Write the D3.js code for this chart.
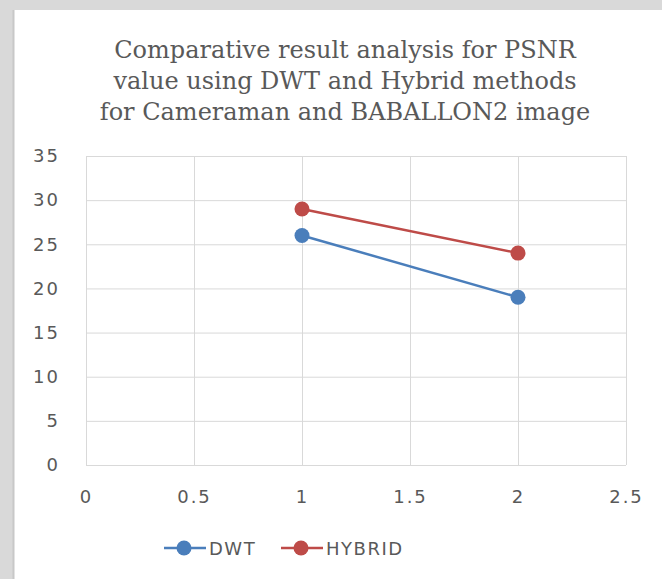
<!DOCTYPE html>
<html>
<head>
<meta charset="utf-8">
<script src="https://cdn.jsdelivr.net/npm/d3@7"></script>
<style>
  body { margin: 0; background: #d9d9d9; }
  svg { display: block; }
</style>
</head>
<body>
<script>
// data
var xValues = [1, 2];
var dwtValues = [26, 19];
var hybridValues = [29, 24];
var seriesNames = ["DWT", "HYBRID"];
var seriesColors = ["#4a7ebb", "#be4b48"];
var xTicks = [0, 0.5, 1, 1.5, 2, 2.5];
var yTicks = [0, 5, 10, 15, 20, 25, 30, 35];
var titleLines = ["Comparative result analysis for PSNR",
                  "value using DWT and Hybrid methods",
                  "for Cameraman and BABALLON2 image"];

var W = 662, H = 579;
var margin = {left: 86, right: 36, top: 156, bottom: 114};
var width = W - margin.left - margin.right,
    height = H - margin.top - margin.bottom;

var svg = d3.select("body").append("svg")
    .attr("width", W)
    .attr("height", H);

// white chart area with a thin grey edge
svg.append("rect")
    .attr("x", 13).attr("y", 10)
    .attr("width", W - 13).attr("height", H - 10)
    .style("fill", "#fff");
svg.append("line")
    .attr("x1", 13.5).attr("x2", 13.5).attr("y1", 10).attr("y2", H)
    .style("stroke", "#c8c8c8").style("stroke-width", 2);

// title
svg.append("text")
    .attr("x", 345)
    .attr("y", 58)
    .style("text-anchor", "middle")
    .style("font-family", "'DejaVu Serif', serif")
    .style("font-size", "24px")
    .style("fill", "#595959")
    .selectAll("tspan")
    .data(titleLines)
    .enter().append("tspan")
    .attr("x", 345)
    .attr("dy", function(d, i) { return i == 0 ? 0 : 31; })
    .text(function(d) { return d; });

var g = svg.append("g")
    .attr("transform", "translate(" + margin.left + "," + margin.top + ")");

var xScale = d3.scaleLinear().domain([0, 2.5]).range([0, width]);
var yScale = d3.scaleLinear().domain([0, 35]).range([height, 0]);

//grid lines
var xAxis = d3.axisBottom(xScale).tickValues(xTicks).tickSize(-height).tickPadding(25)
    .tickFormat(function(d) { return String(d); });
var yAxis = d3.axisLeft(yScale).tickValues(yTicks).tickSize(-width).tickPadding(26);

g.append("g")
    .attr("class", "x axis")
    .attr("transform", "translate(0," + height + ")")
    .call(xAxis);
g.append("g")
    .attr("class", "y axis")
    .call(yAxis);

g.selectAll(".axis .domain").remove();
g.selectAll(".axis line").style("stroke", "#d9d9d9").style("stroke-width", 1);
g.selectAll(".axis text")
    .style("font-family", "'DejaVu Sans', sans-serif")
    .style("font-size", "18px")
    .style("letter-spacing", "2px")
    .style("fill", "#595959");

// series
var series = [dwtValues, hybridValues];
var line = d3.line()
    .x(function(d, i) { return xScale(xValues[i]); })
    .y(function(d) { return yScale(d); });

series.forEach(function(vals, k) {
    g.append("path")
        .datum(vals)
        .attr("d", line)
        .style("fill", "none")
        .style("stroke", seriesColors[k])
        .style("stroke-width", 2.5);
    g.selectAll(".dot" + k)
        .data(vals)
        .enter().append("circle")
        .attr("class", "dot" + k)
        .attr("cx", function(d, i) { return xScale(xValues[i]); })
        .attr("cy", function(d) { return yScale(d); })
        .attr("r", 7.5)
        .style("fill", seriesColors[k]);
});

// legend
var legendX = [164, 281];
var legend = svg.selectAll(".legend")
    .data(seriesNames)
    .enter().append("g")
    .attr("class", "legend")
    .attr("transform", function(d, i) { return "translate(" + legendX[i] + ",548)"; });
legend.append("line")
    .attr("x1", 0).attr("x2", 42)
    .style("stroke", function(d, i) { return seriesColors[i]; })
    .style("stroke-width", 2.5);
legend.append("circle")
    .attr("cx", 20).attr("r", 7.5)
    .style("fill", function(d, i) { return seriesColors[i]; });
legend.append("text")
    .attr("x", 45).attr("y", 7)
    .style("font-family", "'DejaVu Sans', sans-serif")
    .style("font-size", "18px")
    .style("letter-spacing", "1.5px")
    .style("fill", "#595959")
    .text(function(d) { return d; });
</script>
</body>
</html>
